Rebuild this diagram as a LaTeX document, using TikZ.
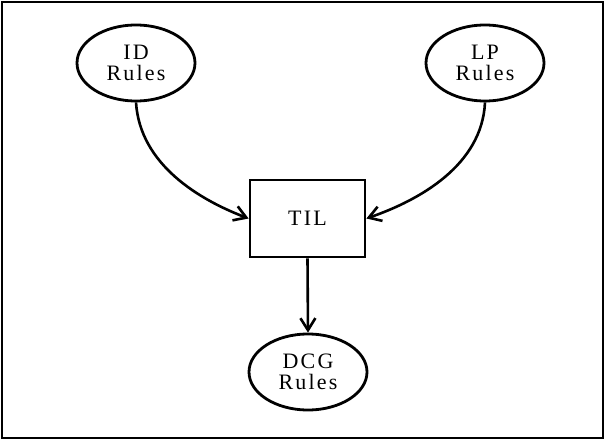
\documentclass[tikz,border=0pt]{standalone}
\usepackage{fontspec}
\setmainfont{Liberation Serif}[LetterSpace=10]
\usetikzlibrary{shapes.geometric,arrows.meta}
\begin{document}
\begin{tikzpicture}[x=1pt,y=-1pt,
  oval/.style={ellipse,draw,line width=2.8pt,minimum width=118pt,minimum height=76pt,inner sep=0pt,align=center,font=\fontsize{22}{21}\selectfont},
  box/.style={rectangle,draw,line width=2.8pt,minimum width=115pt,minimum height=77pt,font=\fontsize{22}{22}\selectfont},
  conn/.style={line width=2.6pt,-{Straight Barb[length=12pt,width=15pt,line width=2.6pt]}}]
\useasboundingbox (0,0) rectangle (605,441);
\draw[line width=2.2pt] (2,2) rectangle (603,438);
\node[oval] (id) at (136,63) {ID\\Rules};
\node[oval] (lp) at (485,63) {LP\\Rules};
\node[box] (til) at (307.5,218.5) {TIL};
\node[oval] (dcg) at (308,372) {DCG\\Rules};
\draw[conn] (id.south) .. controls (140,165) and (200,200) .. (til.west);
\draw[conn] (lp.south) .. controls (482,165) and (420,200) .. (til.east);
\draw[conn] (til.south) -- (dcg.north);
\end{tikzpicture}
\end{document}
